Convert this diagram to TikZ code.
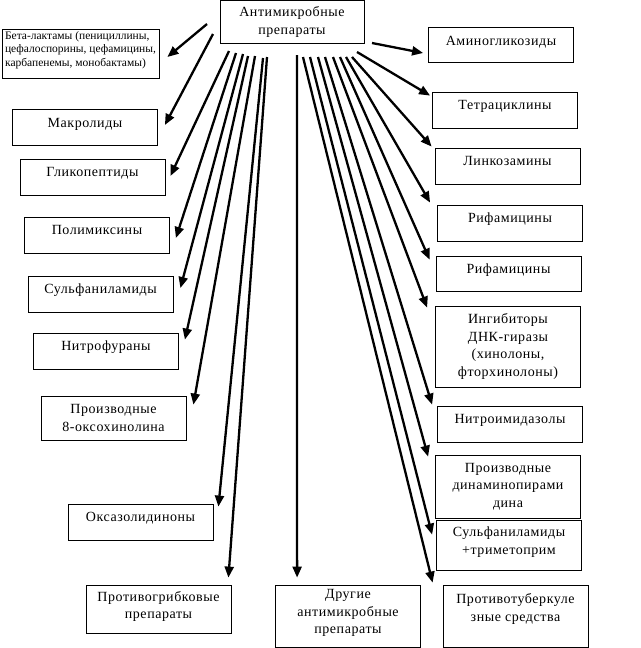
\documentclass[tikz,border=0pt]{standalone}
\usepackage{fontspec}
\setmainfont[LetterSpace=4]{Liberation Serif}
\newfontfamily\plainserif{Liberation Serif}
\usetikzlibrary{arrows.meta, calc}
\tikzstyle{block} = [draw, rectangle, line width=0.8pt, minimum width=145pt, minimum height=36pt,
    inner sep=2pt, align=center, font=\fontsize{14}{17.5}\selectfont]
\tikzstyle{oneline} = [block, text height=10pt, text depth=11pt]
\tikzstyle{smallblock} = [block, align=left, font=\plainserif\fontsize{11.5}{13.7}\selectfont]
\tikzstyle{arrow} = [-{Triangle[length=11pt,width=9pt]}, line width=2.3pt, black]

\begin{document}
\begin{tikzpicture}[x=1pt, y=-1pt]
    \useasboundingbox (0,0) rectangle (640,648);

    % Place the blocks
    \node [block, minimum width=144pt, minimum height=42.5pt] (amp) at (292,21.75) {Антимикробные\\препараты};
    \node [smallblock, minimum width=157pt, minimum height=49pt, text depth=9pt] (beta) at (80.5,53.5)
        {Бета-лактамы (пенициллины,\\цефалоспорины, цефамицины,\\карбапенемы, монобактамы)};
    \node [oneline] (makro) at (85,127.5) {Макролиды};
    \node [oneline] (glyco) at (92.5,177) {Гликопептиды};
    \node [oneline] (polym) at (97,235) {Полимиксины};
    \node [oneline] (sulfa) at (100.5,294) {Сульфаниламиды};
    \node [oneline] (nitrof) at (106,351) {Нитрофураны};
    \node [block, minimum height=44pt] (oxo) at (113.5,418) {Производные\\8-оксохинолина};
    \node [oneline] (oxaz) at (140.5,522) {Оксазолидиноны};
    \node [block, minimum height=48pt, text depth=8pt] (grib) at (158.5,609) {Противогрибковые\\препараты};
    \node [block, minimum height=62pt, text depth=9pt] (drugie) at (348,616) {Другие\\антимикробные\\препараты};

    \node [oneline, minimum height=35pt, text depth=9pt] (amino) at (501,44.5) {Аминогликозиды};
    \node [oneline] (tetra) at (505,110) {Тетрациклины};
    \node [oneline] (linko) at (507.5,166) {Линкозамины};
    \node [oneline] (rifa) at (510,223) {Рифамицины};
    \node [oneline, minimum height=35pt] (rifb) at (508.5,273.5) {Рифамицины};
    \node [block, minimum height=81pt] (girase) at (508,346.5) {Ингибиторы\\ДНК-гиразы\\(хинолоны,\\фторхинолоны)};
    \node [oneline] (nitroim) at (510,424) {Нитроимидазолы};
    \node [block, minimum height=63pt] (diamino) at (508,486.5) {Производные\\динаминопирами\\дина};
    \node [block, minimum height=50pt, text depth=9pt] (trimet) at (509,545) {Сульфаниламиды\\+триметоприм};
    \node [block, minimum height=62pt, text depth=17pt] (tuber) at (515.5,616) {Противотуберкуле\\зные средства};

    % Starting points of the arrows
    \coordinate (s1) at (207,24);
    \coordinate (s2) at (213,34);
    \coordinate (s3) at (229,51);
    \coordinate (s4) at (236,53);
    \coordinate (s5) at (243,54);
    \coordinate (s6) at (248,56);
    \coordinate (s7) at (255,56);
    \coordinate (s8) at (263,58);
    \coordinate (s9) at (267,57);
    \coordinate (s10) at (297,55);
    \coordinate (s11) at (372,43);
    \coordinate (s12) at (357,52);
    \coordinate (s13) at (352,57);
    \coordinate (s14) at (346,57);
    \coordinate (s15) at (340,57);
    \coordinate (s16) at (333,57);
    \coordinate (s17) at (325,57);
    \coordinate (s18) at (318,57);
    \coordinate (s19) at (310,57);
    \coordinate (s20) at (303,57);

    % Connect the nodes
    \draw [arrow] (s1) -- ($(beta.east)+(8,3.5)$);
    \draw [arrow] (s2) -- ($(makro.east)+(7,-2.5)$);
    \draw [arrow] (s3) -- ($(glyco.east)+(5,-1)$);
    \draw [arrow] (s4) -- ($(polym.east)+(6,3)$);
    \draw [arrow] (s5) -- ($(sulfa.east)+(7,-6)$);
    \draw [arrow] (s6) -- ($(nitrof.north east)+(6,7)$);
    \draw [arrow] (s7) -- ($(oxo.north east)+(7,9)$);
    \draw [arrow] (s8) -- ($(oxaz.north east)+(5,3)$);
    \draw [arrow] (s9) -- ($(grib.north east)+(-3,-7)$);
    \draw [arrow] (s10) -- ($(drugie.north west)+(22,-7)$);
    \draw [arrow] (s11) -- ($(amino.west)+(-5,8.5)$);
    \draw [arrow] (s12) -- ($(tetra.north west)+(-2,4)$);
    \draw [arrow] (s13) -- ($(linko.north west)+(-3,-1)$);
    \draw [arrow] (s14) -- ($(rifa.north west)+(-7,-2)$);
    \draw [arrow] (s15) -- ($(rifb.north west)+(-6,4)$);
    \draw [arrow] (s16) -- ($(girase.north west)+(-8,2)$);
    \draw [arrow] (s17) -- ($(nitroim.north west)+(-5,-1)$);
    \draw [arrow] (s18) -- ($(diamino.north west)+(-7,2)$);
    \draw [arrow] (s19) -- ($(trimet.north west)+(-4,15)$);
    \draw [arrow] (s20) -- ($(tuber.north west)+(-10,-2)$);
\end{tikzpicture}
\end{document}
